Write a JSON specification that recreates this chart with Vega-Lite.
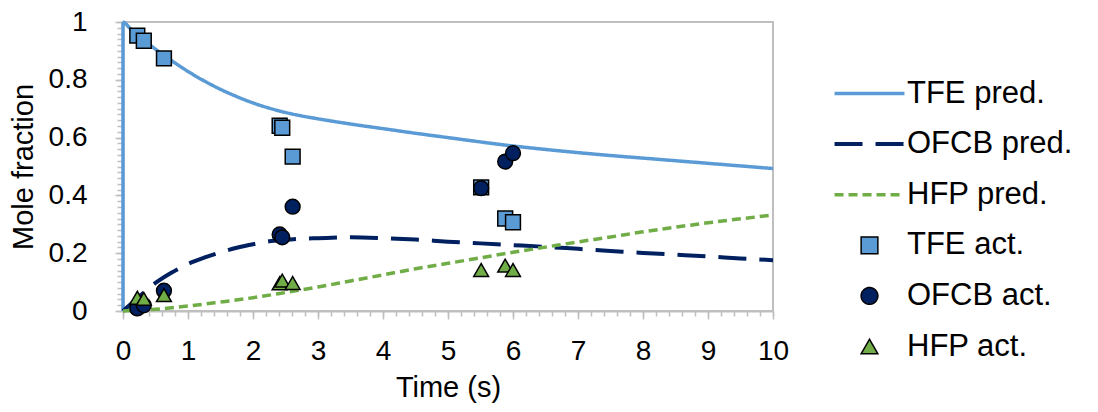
{
  "$schema": "https://vega.github.io/schema/vega-lite/v6.json",
  "autosize": {"type": "none"},
  "width": 650,
  "height": 289,
  "padding": {"left": 123, "top": 22, "right": 325, "bottom": 101},
  "background": "white",
  "config": {
    "view": {"stroke": "#BFBFBF", "strokeWidth": 2},
    "font": "Liberation Sans",
    "axis": {"labelFont": "Liberation Sans", "titleFont": "Liberation Sans", "labelColor": "#000000", "titleColor": "#000000", "titleFontWeight": "normal", "grid": false, "tickColor": "#BFBFBF", "domainColor": "#BFBFBF"},
    "legend": {"labelFont": "Liberation Sans", "labelFontSize": 31, "labelColor": "#000000", "symbolSize": 280, "padding": 0, "labelOffset": 22, "rowPadding": 18.6, "labelLimit": 400}
  },
  "datasets": {
    "pred": [
      {"t": 0, "v": 0, "series": "TFE pred."},
      {"t": 0, "v": 1, "series": "TFE pred."},
      {"t": 0.1, "v": 0.98, "series": "TFE pred."},
      {"t": 0.25, "v": 0.951, "series": "TFE pred."},
      {"t": 0.5, "v": 0.906, "series": "TFE pred."},
      {"t": 0.75, "v": 0.866, "series": "TFE pred."},
      {"t": 1, "v": 0.829, "series": "TFE pred."},
      {"t": 1.25, "v": 0.796, "series": "TFE pred."},
      {"t": 1.5, "v": 0.767, "series": "TFE pred."},
      {"t": 1.75, "v": 0.742, "series": "TFE pred."},
      {"t": 2, "v": 0.72, "series": "TFE pred."},
      {"t": 2.25, "v": 0.702, "series": "TFE pred."},
      {"t": 2.5, "v": 0.687, "series": "TFE pred."},
      {"t": 2.75, "v": 0.675, "series": "TFE pred."},
      {"t": 3, "v": 0.665, "series": "TFE pred."},
      {"t": 3.5, "v": 0.647, "series": "TFE pred."},
      {"t": 4, "v": 0.631, "series": "TFE pred."},
      {"t": 4.5, "v": 0.615, "series": "TFE pred."},
      {"t": 5, "v": 0.6, "series": "TFE pred."},
      {"t": 5.5, "v": 0.585, "series": "TFE pred."},
      {"t": 6, "v": 0.571, "series": "TFE pred."},
      {"t": 6.5, "v": 0.559, "series": "TFE pred."},
      {"t": 7, "v": 0.548, "series": "TFE pred."},
      {"t": 7.5, "v": 0.538, "series": "TFE pred."},
      {"t": 8, "v": 0.529, "series": "TFE pred."},
      {"t": 8.5, "v": 0.52, "series": "TFE pred."},
      {"t": 9, "v": 0.511, "series": "TFE pred."},
      {"t": 9.5, "v": 0.502, "series": "TFE pred."},
      {"t": 10, "v": 0.493, "series": "TFE pred."},
      {"t": 0, "v": 0, "series": "OFCB pred."},
      {"t": 0.1, "v": 0.02, "series": "OFCB pred."},
      {"t": 0.25, "v": 0.05, "series": "OFCB pred."},
      {"t": 0.5, "v": 0.097, "series": "OFCB pred."},
      {"t": 0.75, "v": 0.133, "series": "OFCB pred."},
      {"t": 1, "v": 0.163, "series": "OFCB pred."},
      {"t": 1.25, "v": 0.185, "series": "OFCB pred."},
      {"t": 1.5, "v": 0.203, "series": "OFCB pred."},
      {"t": 1.75, "v": 0.219, "series": "OFCB pred."},
      {"t": 2, "v": 0.231, "series": "OFCB pred."},
      {"t": 2.25, "v": 0.241, "series": "OFCB pred."},
      {"t": 2.5, "v": 0.246, "series": "OFCB pred."},
      {"t": 2.75, "v": 0.25, "series": "OFCB pred."},
      {"t": 3, "v": 0.252, "series": "OFCB pred."},
      {"t": 3.5, "v": 0.255, "series": "OFCB pred."},
      {"t": 4, "v": 0.252, "series": "OFCB pred."},
      {"t": 4.5, "v": 0.247, "series": "OFCB pred."},
      {"t": 5, "v": 0.24, "series": "OFCB pred."},
      {"t": 5.5, "v": 0.234, "series": "OFCB pred."},
      {"t": 6, "v": 0.228, "series": "OFCB pred."},
      {"t": 6.5, "v": 0.222, "series": "OFCB pred."},
      {"t": 7, "v": 0.215, "series": "OFCB pred."},
      {"t": 7.5, "v": 0.208, "series": "OFCB pred."},
      {"t": 8, "v": 0.201, "series": "OFCB pred."},
      {"t": 8.5, "v": 0.195, "series": "OFCB pred."},
      {"t": 9, "v": 0.189, "series": "OFCB pred."},
      {"t": 9.5, "v": 0.182, "series": "OFCB pred."},
      {"t": 10, "v": 0.176, "series": "OFCB pred."},
      {"t": 0, "v": 0, "series": "HFP pred."},
      {"t": 0.5, "v": 0.006, "series": "HFP pred."},
      {"t": 1, "v": 0.017, "series": "HFP pred."},
      {"t": 1.5, "v": 0.031, "series": "HFP pred."},
      {"t": 2, "v": 0.046, "series": "HFP pred."},
      {"t": 2.5, "v": 0.064, "series": "HFP pred."},
      {"t": 3, "v": 0.083, "series": "HFP pred."},
      {"t": 3.5, "v": 0.104, "series": "HFP pred."},
      {"t": 4, "v": 0.125, "series": "HFP pred."},
      {"t": 4.5, "v": 0.146, "series": "HFP pred."},
      {"t": 5, "v": 0.165, "series": "HFP pred."},
      {"t": 5.5, "v": 0.184, "series": "HFP pred."},
      {"t": 6, "v": 0.203, "series": "HFP pred."},
      {"t": 6.5, "v": 0.221, "series": "HFP pred."},
      {"t": 7, "v": 0.239, "series": "HFP pred."},
      {"t": 7.5, "v": 0.256, "series": "HFP pred."},
      {"t": 8, "v": 0.274, "series": "HFP pred."},
      {"t": 8.5, "v": 0.29, "series": "HFP pred."},
      {"t": 9, "v": 0.305, "series": "HFP pred."},
      {"t": 9.5, "v": 0.319, "series": "HFP pred."},
      {"t": 10, "v": 0.332, "series": "HFP pred."}
    ],
    "act": [
      {"t": 0.22, "v": 0.953, "series": "TFE act."},
      {"t": 0.32, "v": 0.935, "series": "TFE act."},
      {"t": 0.63, "v": 0.874, "series": "TFE act."},
      {"t": 2.41, "v": 0.641, "series": "TFE act."},
      {"t": 2.45, "v": 0.634, "series": "TFE act."},
      {"t": 2.61, "v": 0.534, "series": "TFE act."},
      {"t": 5.51, "v": 0.428, "series": "TFE act."},
      {"t": 5.88, "v": 0.32, "series": "TFE act."},
      {"t": 6.0, "v": 0.307, "series": "TFE act."},
      {"t": 0.22, "v": 0.009, "series": "OFCB act."},
      {"t": 0.32, "v": 0.02, "series": "OFCB act."},
      {"t": 0.63, "v": 0.07, "series": "OFCB act."},
      {"t": 2.41, "v": 0.265, "series": "OFCB act."},
      {"t": 2.45, "v": 0.255, "series": "OFCB act."},
      {"t": 2.61, "v": 0.361, "series": "OFCB act."},
      {"t": 5.51, "v": 0.425, "series": "OFCB act."},
      {"t": 5.88, "v": 0.517, "series": "OFCB act."},
      {"t": 6.0, "v": 0.546, "series": "OFCB act."},
      {"t": 0.22, "v": 0.046, "series": "HFP act."},
      {"t": 0.32, "v": 0.042, "series": "HFP act."},
      {"t": 0.63, "v": 0.055, "series": "HFP act."},
      {"t": 2.41, "v": 0.096, "series": "HFP act."},
      {"t": 2.45, "v": 0.105, "series": "HFP act."},
      {"t": 2.61, "v": 0.097, "series": "HFP act."},
      {"t": 5.51, "v": 0.142, "series": "HFP act."},
      {"t": 5.88, "v": 0.157, "series": "HFP act."},
      {"t": 6.0, "v": 0.142, "series": "HFP act."}
    ]
  },
  "resolve": {"axis": {"x": "independent", "y": "independent"}},
  "layer": [
    {
      "data": {"name": "pred"},
      "mark": {"type": "line", "strokeCap": "butt", "strokeJoin": "round", "interpolate": "monotone"},
      "encoding": {
        "x": {"field": "t", "type": "quantitative", "scale": {"domain": [0, 10], "nice": false},
          "axis": {"orient": "bottom", "values": [0,1,2,3,4,5,6,7,8,9,10], "format": "d", "tickSize": 8, "tickWidth": 1.5, "domainWidth": 2, "labelFontSize": 28, "labelPadding": 18, "labelFlush": false, "labelOverlap": false, "title": "Time (s)", "titleFontSize": 29, "titlePadding": 8}},
        "y": {"field": "v", "type": "quantitative", "scale": {"domain": [0, 1], "nice": false},
          "axis": {"orient": "left", "values": [0,0.2,0.4,0.6,0.8,1], "format": "~g", "tickSize": 8, "tickWidth": 1.5, "domainWidth": 2, "labelFontSize": 28, "labelPadding": 28, "labelFlush": false, "labelOverlap": false, "title": "Mole fraction", "titleFontSize": 29, "titlePadding": 10}},
        "stroke": {"field": "series", "type": "nominal",
          "scale": {"domain": ["TFE pred.", "OFCB pred.", "HFP pred.", "TFE act.", "OFCB act.", "HFP act."], "range": ["#5B9BD5", "#002060", "#70AD47", "#000000", "#000000", "#000000"]},
          "legend": {"title": null, "orient": "none", "legendX": 731, "legendY": 56}},
        "strokeDash": {"field": "series", "type": "nominal",
          "scale": {"domain": ["TFE pred.", "OFCB pred.", "HFP pred.", "TFE act.", "OFCB act.", "HFP act."], "range": [[1, 0], [28, 13], [9, 5], [1, 0], [1, 0], [1, 0]]},
          "legend": {"title": null, "orient": "none", "legendX": 731, "legendY": 56}},
        "strokeWidth": {"field": "series", "type": "nominal",
          "scale": {"type": "ordinal", "domain": ["TFE pred.", "OFCB pred.", "HFP pred.", "TFE act.", "OFCB act.", "HFP act."], "range": [3.5, 4, 3.5, 1.5, 1.5, 1.5]},
          "legend": {"title": null, "orient": "none", "legendX": 731, "legendY": 56}}
      }
    },
    {
      "data": {"name": "act"},
      "mark": {"type": "point", "filled": true, "size": 220, "opacity": 1, "fillOpacity": 1, "strokeOpacity": 1},
      "encoding": {
        "x": {"field": "t", "type": "quantitative", "scale": {"domain": [0, 10], "nice": false},
          "axis": {"orient": "bottom", "values": [0,0.2,0.4,0.6,0.8,1,1.2,1.4,1.6,1.8,2,2.2,2.4,2.6,2.8,3,3.2,3.4,3.6,3.8,4,4.2,4.4,4.6,4.8,5,5.2,5.4,5.6,5.8,6,6.2,6.4,6.6,6.8,7,7.2,7.4,7.6,7.8,8,8.2,8.4,8.6,8.8,9,9.2,9.4,9.6,9.8,10], "tickSize": 5, "tickWidth": 1.5, "labels": false, "domain": false, "title": null}},
        "y": {"field": "v", "type": "quantitative", "scale": {"domain": [0, 1], "nice": false},
          "axis": {"orient": "left", "values": [0,0.02,0.04,0.06,0.08,0.1,0.12,0.14,0.16,0.18,0.2,0.22,0.24,0.26,0.28,0.3,0.32,0.34,0.36,0.38,0.4,0.42,0.44,0.46,0.48,0.5,0.52,0.54,0.56,0.58,0.6,0.62,0.64,0.66,0.68,0.7,0.72,0.74,0.76,0.78,0.8,0.82,0.84,0.86,0.88,0.9,0.92,0.94,0.96,0.98,1], "tickSize": 6, "tickWidth": 1.5, "labels": false, "domain": false, "title": null}},
        "shape": {"field": "series", "type": "nominal",
          "scale": {"domain": ["TFE pred.", "OFCB pred.", "HFP pred.", "TFE act.", "OFCB act.", "HFP act."], "range": ["M-4.18,0H4.18", "M-4.18,0H4.18", "M-4.18,0H4.18", "square", "circle", "triangle-up"]},
          "legend": {"title": null, "orient": "none", "legendX": 731, "legendY": 56}},
        "fill": {"field": "series", "type": "nominal",
          "scale": {"domain": ["TFE pred.", "OFCB pred.", "HFP pred.", "TFE act.", "OFCB act.", "HFP act."], "range": ["transparent", "transparent", "transparent", "#5B9BD5", "#002060", "#70AD47"]},
          "legend": {"title": null, "orient": "none", "legendX": 731, "legendY": 56}},
        "stroke": {"field": "series", "type": "nominal",
          "scale": {"domain": ["TFE pred.", "OFCB pred.", "HFP pred.", "TFE act.", "OFCB act.", "HFP act."], "range": ["#5B9BD5", "#002060", "#70AD47", "#000000", "#000000", "#000000"]},
          "legend": {"title": null, "orient": "none", "legendX": 731, "legendY": 56}},
        "strokeWidth": {"field": "series", "type": "nominal",
          "scale": {"type": "ordinal", "domain": ["TFE pred.", "OFCB pred.", "HFP pred.", "TFE act.", "OFCB act.", "HFP act."], "range": [3.5, 4, 3.5, 1.5, 1.5, 1.5]},
          "legend": {"title": null, "orient": "none", "legendX": 731, "legendY": 56}}
      }
    }
  ]
}
